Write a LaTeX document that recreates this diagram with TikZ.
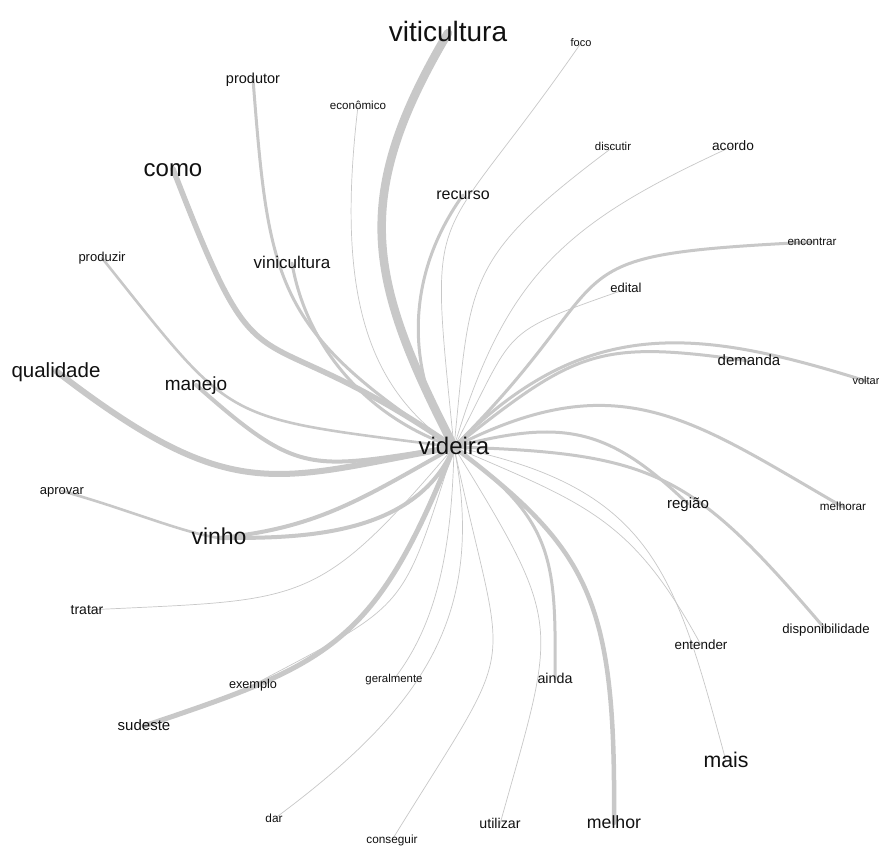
\documentclass[tikz,border=0pt]{standalone}
\usepackage{fontspec}
\setmainfont{Liberation Sans}
\usetikzlibrary{backgrounds}
\definecolor{edgegray}{RGB}{200,200,200}
\definecolor{ink}{RGB}{17,17,17}

\begin{document}
\begin{tikzpicture}[x=1pt,y=-1pt,
  word/.style={font=\fontsize{#1}{#1}\selectfont, text=ink, inner sep=0pt,
               text height={0.6*#1pt}, text depth=0pt, anchor=center},
  link/.style={draw=edgegray, line width=#1, line cap=round},
  faint/.style={draw=edgegray, line width=0.7pt}]
\useasboundingbox (0,0) rectangle (879,846);

% word nodes (positions in pixels, y downwards)
\node[word=24]   (videira)         at (454,447) {videira};
\node[word=28]   (viticultura)     at (448,33)  {viticultura};
\node[word=11]   (foco)            at (581,43)  {foco};
\node[word=14.5] (produtor)        at (253,79)  {produtor};
\node[word=11.6] (economico)       at (358,106) {econômico};
\node[word=24]   (como)            at (173,169) {como};
\node[word=11.4] (discutir)        at (613,147) {discutir};
\node[word=13.7] (acordo)          at (733,146) {acordo};
\node[word=16]   (recurso)         at (463,195) {recurso};
\node[word=11.6] (encontrar)       at (812,242) {encontrar};
\node[word=13]   (produzir)        at (102,258) {produzir};
\node[word=17]   (vinicultura)     at (292,263) {vinicultura};
\node[word=13]   (edital)          at (626,289) {edital};
\node[word=15]   (demanda)         at (749,361) {demanda};
\node[word=11]   (voltar)          at (866,381) {voltar};
\node[word=20.5] (qualidade)       at (56,371)  {qualidade};
\node[word=19]   (manejo)          at (196,385) {manejo};
\node[word=13]   (aprovar)         at (62,491)  {aprovar};
\node[word=15]   (regiao)          at (688,504) {região};
\node[word=11.7] (melhorar)        at (843,507) {melhorar};
\node[word=23]   (vinho)           at (219,538) {vinho};
\node[word=14]   (tratar)          at (87,610)  {tratar};
\node[word=13.2] (disponibilidade) at (826,630) {disponibilidade};
\node[word=13.4] (entender)        at (701,645) {entender};
\node[word=12.7] (exemplo)         at (253,685) {exemplo};
\node[word=11.4] (geralmente)      at (394,679) {geralmente};
\node[word=14.3] (ainda)           at (555,679) {ainda};
\node[word=15]   (sudeste)         at (144,726) {sudeste};
\node[word=21.3] (mais)            at (726,761) {mais};
\node[word=11.8] (dar)             at (274,819) {dar};
\node[word=14.2] (utilizar)        at (500,824) {utilizar};
\node[word=17.7] (melhor)          at (614,823) {melhor};
\node[word=11.8] (conseguir)       at (392,840) {conseguir};

\begin{scope}[on background layer]
\fill[white] (0,0) rectangle (879,846);
% heavy links
\draw[link=8.5pt] (videira.center) .. controls (369,281) and (349,200) .. (viticultura.center);
\draw[link=5.5pt] (como.center) .. controls (267,412) and (242,302) .. (videira.center);
\draw[link=6pt]   (qualidade.center) .. controls (235,509) and (275,479) .. (videira.center);
\draw[link=4pt]   (manejo.center) .. controls (301,478) and (309,469) .. (videira.center);
\draw[link=4pt]   (videira.center) .. controls (363,498) and (319,528) .. (vinho.center);
\draw[link=4pt]   (videira.center) .. controls (415,539) and (294,538) .. (vinho.center);
\draw[link=5pt]   (videira.center) .. controls (375,645) and (332,663) .. (sudeste.center);
\draw[link=4.5pt] (videira.center) .. controls (590,550) and (616,600) .. (melhor.center);
% medium links
\draw[link=2.6pt] (produzir.center) .. controls (238,428) and (217,416) .. (videira.center);
\draw[link=2.6pt] (aprovar.center) .. controls (130,510) and (180,532) .. (vinho.center);
\draw[link=3pt]   (videira.center) .. controls (555,520) and (556,560) .. (ainda.center);
\draw[link=3pt]   (videira.center) .. controls (657,453) and (692,473) .. (disponibilidade.center);
\draw[link=3pt]   (videira.center) .. controls (562,419) and (607,426) .. (regiao.center);
\draw[link=3pt]   (videira.center) .. controls (620,362) and (692,420) .. (melhorar.center);
\draw[link=3pt]   (videira.center) .. controls (585,314) and (697,328) .. (voltar.center);
\draw[link=3pt]   (videira.center) .. controls (576,351) and (596,339) .. (demanda.center);
\draw[link=3pt]   (videira.center) .. controls (635,266) and (535,256) .. (encontrar.center);
\draw[link=3pt]   (videira.center) .. controls (415,390) and (395,290) .. (recurso.center);
\draw[link=3pt]   (vinicultura.center) .. controls (305,340) and (360,415) .. (videira.center);
\draw[link=3pt]   (produtor.center) .. controls (269,283) and (274,331) .. (videira.center);
% faint links
\draw[faint] (videira.center) .. controls (401,615) and (409,602) .. (exemplo.center);
\draw[faint] (videira.center) .. controls (315,610) and (305,599) .. (tratar.center);
\draw[faint] (videira.center) .. controls (452,540) and (440,620) .. (geralmente.center);
\draw[faint] (videira.center) .. controls (488,620) and (418,712) .. (dar.center);
\draw[faint] (videira.center) .. controls (506,691) and (524,626) .. (conseguir.center);
\draw[faint] (videira.center) .. controls (565,628) and (557,620) .. (utilizar.center);
\draw[faint] (videira.center) .. controls (586,504) and (632,518) .. (entender.center);
\draw[faint] (videira.center) .. controls (654,488) and (675,573) .. (mais.center);
\draw[faint] (videira.center) .. controls (518,326) and (495,335) .. (edital.center);
\draw[faint] (videira.center) .. controls (506,273) and (567,222) .. (acordo.center);
\draw[faint] (videira.center) .. controls (471,280) and (462,260) .. (discutir.center);
\draw[faint] (videira.center) .. controls (428,187) and (430,261) .. (foco.center);
\draw[faint] (economico.center) .. controls (335,300) and (370,390) .. (videira.center);
\end{scope}
\end{tikzpicture}
\end{document}
